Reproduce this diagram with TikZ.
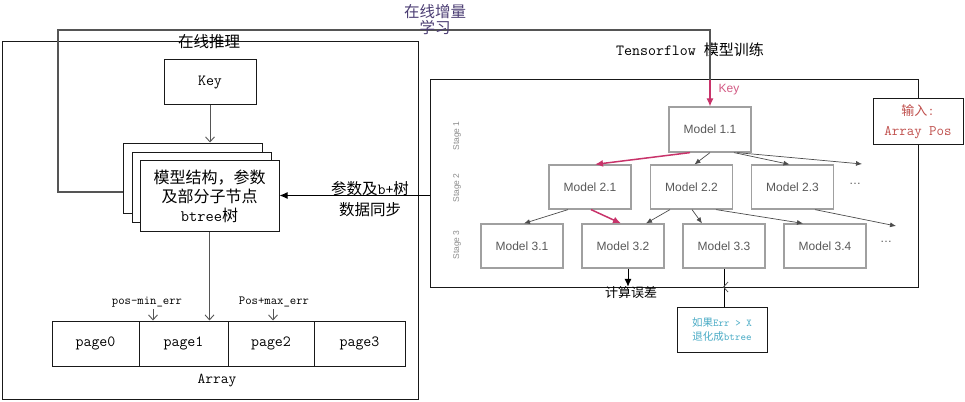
\documentclass[tikz,border=0pt]{standalone}
\usepackage{fontspec}
\newfontfamily\cjk{Noto Sans CJK SC}
\newfontfamily\mono{Latin Modern Mono}
\newfontfamily\hel{Liberation Sans}
\usetikzlibrary{arrows.meta}
\definecolor{pinkc}{HTML}{C8336A}
\definecolor{pinkt}{HTML}{D25A84}
\definecolor{redt}{HTML}{C0504D}
\definecolor{cyant}{HTML}{4BACC6}
\definecolor{purt}{HTML}{4B3D73}
\definecolor{lgray}{HTML}{555555}
\definecolor{mgray}{HTML}{A0A0A0}
\tikzset{
  box/.style={draw=black!90, line width=1pt, fill=white, inner sep=0pt},
  modelbox/.style={draw=mgray, line width=1.2pt, fill=white, minimum width=82pt, minimum height=44pt, inner sep=0pt, font=\hel\fontsize{12}{14}\selectfont, text=black!65},
  stagelbl/.style={rotate=90, font=\hel\fontsize{8.5}{9}\selectfont, text=black!45},
  openarr/.style={draw=lgray, line width=0.9pt, -{Straight Barb[length=5pt,width=9pt]}},
  marr/.style={draw=black!70, line width=0.7pt, -{Latex[length=6pt,width=5pt]}},
  parr/.style={draw=pinkc, line width=1.5pt, -{Latex[length=8pt,width=7pt]}},
  barr/.style={draw=black, line width=1pt, -{Latex[length=8pt,width=7pt]}},
  loopline/.style={draw=lgray, line width=1.1pt},
  monotxt/.style={font=\mono\fontsize{15.5}{17}\selectfont, inner sep=0pt},
  cjktxt/.style={font=\cjk\fontsize{16}{20}\selectfont, inner sep=0pt, align=center}
}
\begin{document}
\begin{tikzpicture}[x=1pt,y=-1pt]
\useasboundingbox (0,0) rectangle (965,401);

% ---------- left part: online inference ----------
\node[box, fill=none, minimum width=416pt, minimum height=357pt] (infer) at (210,220.5) {};
\node[cjktxt, font=\cjk\fontsize{15.5}{18}\selectfont] (tinfer) at (209,42) {在线推理};

\node[box, minimum width=92pt, minimum height=45pt, font=\mono\fontsize{15.5}{17}\selectfont] (key) at (210,82.5) {Key};

\node[box, minimum width=139pt, minimum height=70pt] (back) at (192.5,178) {};
\node[box, minimum width=139pt, minimum height=70pt] (mid) at (201.5,187) {};
\node[box, minimum width=139pt, minimum height=71pt] (front) at (209.5,195.5) {};
\node[cjktxt, font=\cjk\fontsize{16}{19}\selectfont] (fronttxt) at (209.5,196) {模型结构，参数\\及部分子节点\\{\mono btree}树};

\draw[openarr] (key.south) -- (key.south |- back.north);

% pages
\node[box, minimum width=87pt, minimum height=45pt, font=\mono\fontsize{15.5}{17}\selectfont] (page0) at (95.5,343.5) {page0};
\node[box, minimum width=89pt, minimum height=45pt, font=\mono\fontsize{15.5}{17}\selectfont] (page1) at (183.5,343.5) {page1};
\node[box, minimum width=86pt, minimum height=45pt, font=\mono\fontsize{15.5}{17}\selectfont] (page2) at (271,343.5) {page2};
\node[box, minimum width=91pt, minimum height=45pt, font=\mono\fontsize{15.5}{17}\selectfont] (page3) at (359.5,343.5) {page3};
\node[monotxt, font=\mono\fontsize{15}{17}\selectfont] (arraylbl) at (217,381) {Array};

\node[font=\mono\fontsize{12.4}{13}\selectfont, inner sep=0pt] (pmin) at (147,302) {pos-min\_err};
\node[font=\mono\fontsize{12.4}{13}\selectfont, inner sep=0pt] (pmax) at (274,302) {Pos+max\_err};
\draw[openarr] ([xshift=6pt,yshift=-2pt]pmin.south) -- ([xshift=6pt]pmin.south |- page1.north);
\draw[openarr] ([xshift=-1pt,yshift=-2pt]pmax.south) -- ([xshift=-1pt]pmax.south |- page2.north);
\draw[openarr] (front.south) -- (front.south |- page1.north);

% ---------- right part: training ----------
\node[box, fill=none, minimum width=488pt, minimum height=207pt] (train) at (674,183.5) {};
\node[inner sep=0pt] (ttrain) at (690,50) {{\mono\fontsize{15.5}{17}\selectfont Tensorflow }{\cjk\fontsize{15}{17}\selectfont 模型训练}};

\node[stagelbl] (s1) at (457,136) {Stage 1};
\node[stagelbl] (s2) at (457,188) {Stage 2};
\node[stagelbl] (s3) at (457,245) {Stage 3};

\node[modelbox, minimum height=45pt] (m11) at (710,129.5) {Model 1.1};
\node[modelbox] (m21) at (590,187) {Model 2.1};
\node[modelbox] (m22) at (691.5,187) {Model 2.2};
\node[modelbox] (m23) at (792.5,187) {Model 2.3};
\node[font=\hel\fontsize{12}{14}\selectfont, text=black!65] (d2) at (855,184) {\dots};
\node[modelbox] (m31) at (522,246) {Model 3.1};
\node[modelbox] (m32) at (623,246) {Model 3.2};
\node[modelbox] (m33) at (724,246) {Model 3.3};
\node[modelbox] (m34) at (825,246) {Model 3.4};
\node[font=\hel\fontsize{12}{14}\selectfont, text=black!65] (d3) at (886,242) {\dots};

\coordinate (e1) at (862,164);
\coordinate (e2) at (896,226);

\draw[parr] ([xshift=-20pt]m11.south) -- ([xshift=5pt]m21.north);
\draw[marr] (m11.south) -- ([xshift=3pt]m22.north);
\draw[marr] ([xshift=24pt]m11.south) -- ([xshift=-3pt]m23.north);
\draw[marr] ([xshift=27pt]m11.south) -- (e1);
\draw[marr] ([xshift=-22pt]m21.south) -- ([xshift=2pt]m31.north);
\draw[parr] ([xshift=1pt]m21.south) -- ([xshift=-2pt]m32.north);
\draw[marr] ([xshift=-21.5pt]m22.south) -- ([xshift=23pt]m32.north);
\draw[marr] ([xshift=0.5pt]m22.south) -- ([xshift=-22pt]m33.north);
\draw[marr] ([xshift=24.5pt]m22.south) -- ([xshift=-22pt]m34.north);
\draw[marr] ([xshift=22.5pt]m23.south) -- (e2);

% loop line: online incremental learning
\coordinate (lp) at (58,30);
\coordinate (kin) at (710,80);
\draw[loopline] ([yshift=-14pt]back.west) -| (lp) -- (lp -| kin) -- (kin);
\draw[parr, line width=1.2pt] (kin) -- (m11.north) node[pos=0.35, right=8pt, inner sep=0pt, font=\hel\fontsize{12}{13}\selectfont, text=pinkt] (keylbl) {Key};
\node[font=\cjk\fontsize{15.5}{16}\selectfont, text=purt, align=center, inner sep=0pt] (inclbl) at (435,20) {在线增量\\学习};

% sync arrow
\draw[barr] (train.west |- front.east) -- (front.east);
\node[cjktxt, font=\cjk\fontsize{15.5}{21}\selectfont] (synclbl) at (370,199) {参数及{\mono b+}树\\数据同步};

% error computation
\node[inner sep=0pt, font=\cjk\fontsize{13}{15}\selectfont] (calc) at (631,293) {计算误差};
\draw[barr, line width=0.9pt] ([xshift=5pt]m32.south) -- ([xshift=5pt]m32.south |- calc.north);

% fallback box
\node[box, minimum width=90pt, minimum height=45pt, align=center, text=cyant, font=\fontsize{10.5}{14}\selectfont] (ifbox) at (722,329.5) {{\cjk 如果}{\mono Err > X}\\{\cjk 退化成}{\mono btree}};
\draw[draw=black, line width=1pt] (m33.south) -- (m33.south |- ifbox.north);
\draw[draw=lgray, line width=0.8pt] (728,282) -- (723.5,287) -- (728,292);

% input box
\node[box, minimum width=90pt, minimum height=45pt, align=center, text=redt, font=\fontsize{14.5}{20}\selectfont] (inbox) at (918,121.5) {{\cjk\fontsize{13}{20}\selectfont 输入}{\mono :}\\{\mono Array Pos}};
\end{tikzpicture}
\end{document}
